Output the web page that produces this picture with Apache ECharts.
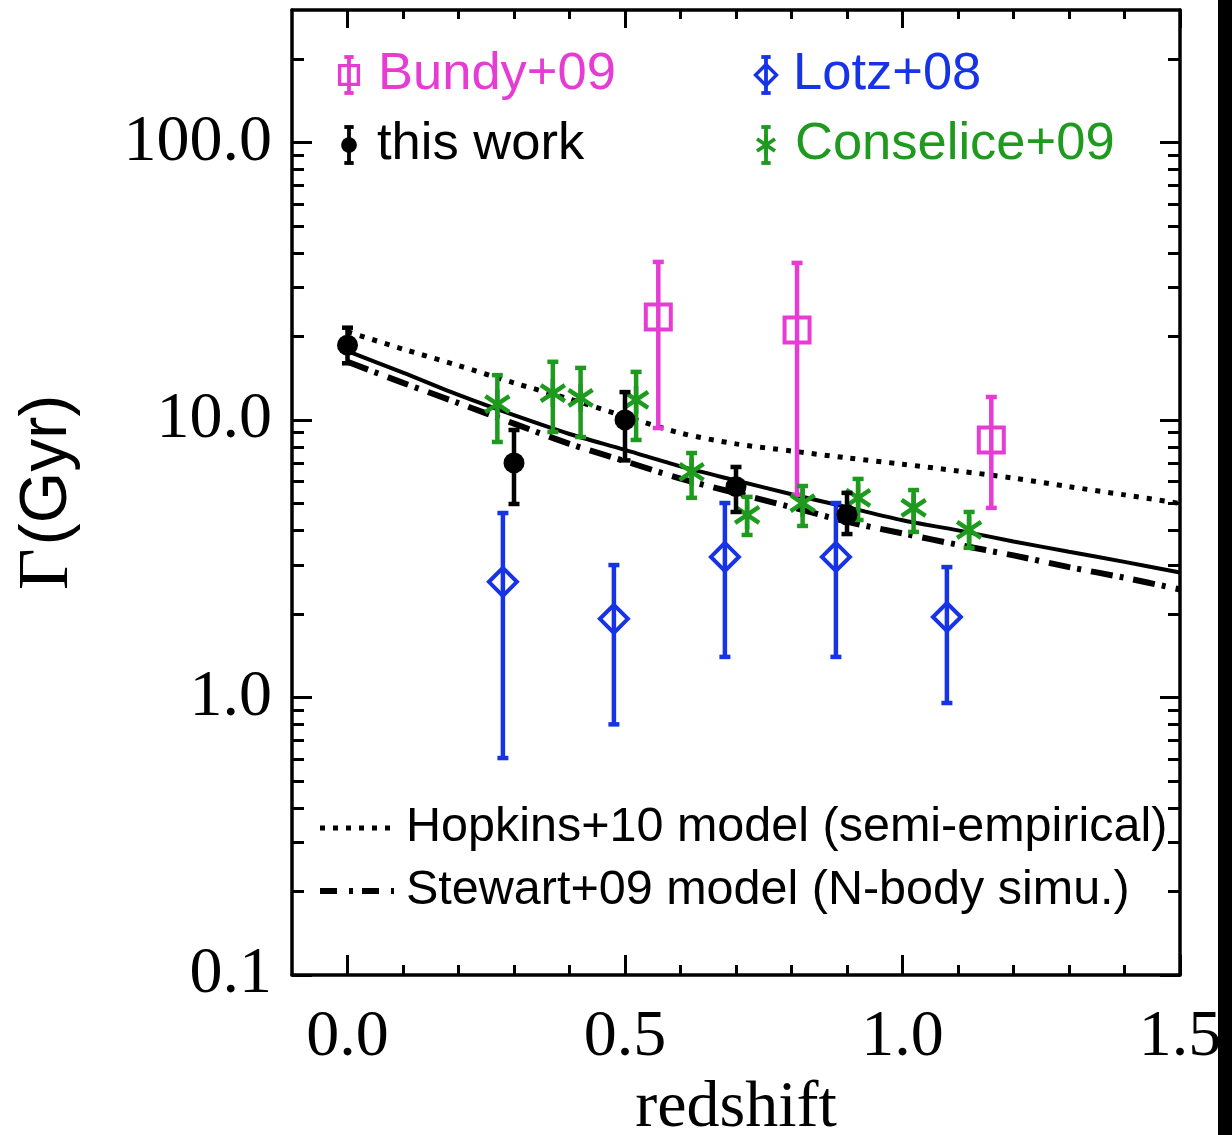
<!DOCTYPE html>
<html>
<head>
<meta charset="utf-8">
<script src="https://cdn.jsdelivr.net/npm/echarts@6/dist/echarts.min.js"></script>
<style>
html,body{margin:0;padding:0;background:#fff;}
#chart{width:1232px;height:1135px;}
</style>
</head>
<body>
<div id="chart"></div>
<script>
// ---------------- data ----------------
// this work
const thisZ  = [0.00, 0.30, 0.50, 0.70, 0.90];
const thisG  = [18.6, 7.0, 10.0, 5.75, 4.55];
const thisLo = [16.0, 4.98, 7.15, 4.66, 3.88];
const thisHi = [21.5, 9.2, 12.6, 6.77, 5.46];
// Bundy+09
const bundyZ  = [0.56, 0.81, 1.16];
const bundyG  = [23.5, 21.1, 8.47];
const bundyLo = [9.35, 5.37, 4.82];
const bundyHi = [37.1, 36.8, 12.1];
// Lotz+08
const lotzZ  = [0.28, 0.48, 0.68, 0.88, 1.08];
const lotzG  = [2.61, 1.92, 3.21, 3.21, 1.95];
const lotzLo = [0.605, 0.80, 1.40, 1.40, 0.955];
const lotzHi = [4.62, 3.00, 5.02, 5.02, 2.95];
// Conselice+09
const conZ  = [0.27, 0.37, 0.42, 0.52, 0.62, 0.72, 0.82, 0.92, 1.02, 1.12];
const conG  = [11.4, 12.5, 12.0, 11.8, 6.5, 4.55, 5.02, 5.24, 4.82, 4.02];
const conLo = [8.33, 9.05, 8.68, 8.47, 5.24, 3.85, 4.15, 4.36, 3.95, 3.46];
const conHi = [14.5, 16.2, 15.4, 14.9, 7.6, 5.28, 5.78, 6.13, 5.59, 4.66];
// model curves
const modelZ    = [0.0, 0.1, 0.2, 0.3, 0.4, 0.5, 0.6, 0.7, 0.8, 0.9, 1.0, 1.1, 1.2, 1.3, 1.4, 1.5];
const fitG      = [17.7, 14.8, 12.3, 10.4, 8.9, 7.8, 6.8, 6.05, 5.4, 4.85, 4.35, 4.0, 3.65, 3.35, 3.08, 2.82];
const hopkinsG  = [20.8, 18.0, 15.7, 13.6, 11.9, 10.3, 8.97, 8.2, 7.73, 7.3, 6.93, 6.55, 6.17, 5.75, 5.37, 5.0];
const stewartG  = [16.2, 13.6, 11.5, 9.7, 8.2, 7.1, 6.15, 5.45, 4.85, 4.3, 3.9, 3.55, 3.25, 2.95, 2.7, 2.45];
// axis ticks
const xMajor = [0.0, 0.5, 1.0, 1.5];
const xMinor = [0.1, 0.2, 0.3, 0.4, 0.6, 0.7, 0.8, 0.9, 1.1, 1.2, 1.3, 1.4];
const yMajor = [0.1, 1, 10, 100];
const yMinor = [0.2, 0.3, 0.4, 0.5, 0.6, 0.7, 0.8, 0.9, 2, 3, 4, 5, 6, 7, 8, 9, 20, 30, 40, 50, 60, 70, 80, 90, 200];
// legend text
const legendTop = [
  {name: 'Bundy+09', kind: 'square'},
  {name: 'this work', kind: 'circle'},
  {name: 'Lotz+08', kind: 'diamond'},
  {name: 'Conselice+09', kind: 'asterisk'}
];

// ---------------- styles ----------------
const COL = {square: '#e63cd4', circle: '#000000', diamond: '#1733e6', asterisk: '#1e9a1e'};
const SANS = "'Liberation Sans', Arial, Helvetica, sans-serif";
const SERIF = "'Liberation Serif', 'Times New Roman', serif";

function markerShape(kind, x, y, s, color) {
  const lw = 4 * Math.max(s, 0.85);
  if (kind === 'square') {
    const h = 12.5 * s;
    return {type: 'rect', shape: {x: x - h, y: y - h, width: 2 * h, height: 2 * h}, style: {stroke: color, lineWidth: lw, fill: null}};
  }
  if (kind === 'diamond') {
    const h = 14 * s;
    return {type: 'polygon', shape: {points: [[x, y - h], [x + h, y], [x, y + h], [x - h, y]]}, style: {stroke: color, lineWidth: lw, fill: null}};
  }
  if (kind === 'circle') {
    return {type: 'circle', shape: {cx: x, cy: y, r: 10.5 * s}, style: {fill: color}};
  }
  // asterisk
  const a = 14 * s, dx = 12 * s, dy = 8 * s, alw = 4.5 * Math.max(s, 0.85);
  return {type: 'group', children: [
    {type: 'line', shape: {x1: x, y1: y - a, x2: x, y2: y + a}, style: {stroke: color, lineWidth: alw}},
    {type: 'line', shape: {x1: x - dx, y1: y - dy, x2: x + dx, y2: y + dy}, style: {stroke: color, lineWidth: alw}},
    {type: 'line', shape: {x1: x - dx, y1: y + dy, x2: x + dx, y2: y - dy}, style: {stroke: color, lineWidth: alw}}
  ]};
}

function errGroup(kind, x, y, yHi, yLo, s, color) {
  const cw = 5.5 * Math.max(s, 0.85), lw = 4.5 * Math.max(s, 0.85);
  return [
    {type: 'line', shape: {x1: x, y1: yHi, x2: x, y2: yLo}, style: {stroke: color, lineWidth: lw}},
    {type: 'line', shape: {x1: x - cw, y1: yHi, x2: x + cw, y2: yHi}, style: {stroke: color, lineWidth: lw}},
    {type: 'line', shape: {x1: x - cw, y1: yLo, x2: x + cw, y2: yLo}, style: {stroke: color, lineWidth: lw}},
    markerShape(kind, x, y, s, color)
  ];
}

function makeRender(kind) {
  const color = COL[kind];
  return function (params, api) {
    const c = api.coord([api.value(0), api.value(1)]);
    const lo = api.coord([api.value(0), api.value(2)]);
    const hi = api.coord([api.value(0), api.value(3)]);
    return {type: 'group', children: errGroup(kind, c[0], c[1], hi[1], lo[1], 1, color)};
  };
}

function pack(z, g, lo, hi) { return z.map((v, i) => [v, g[i], lo[i], hi[i]]); }
function pairs(z, g) { return z.map((v, i) => [v, g[i]]); }

// ---------------- axes ----------------
const axLine = {show: true, onZero: false, lineStyle: {color: '#000', width: 3.5}};
const noLine = {show: false, onZero: false};
const fmt1 = v => Number(v).toFixed(1);

function xAx(pos, ticks, len, main) {
  return {
    type: 'value', position: pos, min: -0.1, max: 1.5,
    axisLine: main ? axLine : noLine,
    axisTick: {show: true, inside: true, length: len, customValues: ticks, lineStyle: {color: '#000', width: 3}},
    axisLabel: (main && pos === 'bottom') ? {show: true, customValues: xMajor, formatter: fmt1, margin: 30,
      fontFamily: SERIF, fontSize: 66, color: '#000'} : {show: false},
    splitLine: {show: false},
    name: (main && pos === 'bottom') ? 'redshift' : '',
    nameLocation: 'middle', nameGap: 85,
    nameTextStyle: {fontFamily: SERIF, fontSize: 66, color: '#000'}
  };
}
function yAx(pos, ticks, len, main) {
  return {
    type: 'log', logBase: 10, position: pos, min: 0.1, max: 300,
    axisLine: main ? axLine : noLine,
    axisTick: {show: true, inside: true, length: len, customValues: ticks, lineStyle: {color: '#000', width: 3}},
    axisLabel: (main && pos === 'left') ? {show: true, customValues: yMajor, formatter: fmt1, margin: 20,
      fontFamily: SERIF, fontSize: 66, color: '#000'} : {show: false},
    splitLine: {show: false},
    name: (main && pos === 'left') ? '{g|Γ} {s|(Gyr)}' : '',
    nameLocation: 'middle', nameGap: 208,
    nameTextStyle: {color: '#000', rich: {
      g: {fontFamily: SERIF, fontSize: 72, color: '#000'},
      s: {fontFamily: SANS, fontSize: 66, color: '#000'}
    }}
  };
}

// ---------------- legend graphics ----------------
const legendPos = [
  {mx: 349, tx: 378, y: 75},
  {mx: 349, tx: 377, y: 145},
  {mx: 766, tx: 793, y: 75},
  {mx: 766, tx: 795, y: 145}
];
const graphics = [];
legendTop.forEach((it, i) => {
  const p = legendPos[i];
  const col = COL[it.kind];
  graphics.push({type: 'group', children: errGroup(it.kind, p.mx, p.y, p.y - 18, p.y + 18, 0.75, col)});
  graphics.push({type: 'text', x: p.tx, y: p.y, style: {text: it.name, fill: col, font: '52.5px ' + SANS, textVerticalAlign: 'middle'}});
});
const lineLegend = [
  {name: 'Hopkins+10 model (semi-empirical)', dash: [5, 8], width: 5, y: 828},
  {name: 'Stewart+09 model (N-body simu.)', dash: [17, 12, 4, 9], width: 6, y: 891}
];
lineLegend.forEach(it => {
  graphics.push({type: 'line', shape: {x1: 320, y1: it.y, x2: 394, y2: it.y}, style: {stroke: '#000', lineWidth: it.width, lineDash: it.dash, lineCap: 'butt'}});
  graphics.push({type: 'text', x: 406, y: it.y, style: {text: it.name, fill: '#000', font: '48.5px ' + SANS, textVerticalAlign: 'middle'}});
});
// black strip at right edge of the reference image
graphics.push({type: 'rect', shape: {x: 1218, y: 0, width: 14, height: 1135}, style: {fill: '#000'}, z: 100});

// ---------------- option ----------------
const chart = echarts.init(document.getElementById('chart'), null, {renderer: 'canvas'});
const option = {
  animation: false,
  backgroundColor: '#fff',
  grid: {left: 292, top: 10, right: 52, bottom: 160, containLabel: false, outerBoundsMode: 'none'},
  xAxis: [
    xAx('bottom', xMajor, 20, true),
    xAx('bottom', xMinor, 10, false),
    xAx('top', xMajor, 18, true),
    xAx('top', xMinor, 9, false)
  ],
  yAxis: [
    yAx('left', yMajor, 20, true),
    yAx('left', yMinor, 12, false),
    yAx('right', yMajor, 20, true),
    yAx('right', yMinor, 12, false)
  ],
  series: [
    {type: 'line', name: 'Hopkins+10', data: pairs(modelZ, hopkinsG), showSymbol: false, smooth: 0.3,
      lineStyle: {color: '#000', width: 5, type: [5, 8], cap: 'butt'}, z: 2},
    {type: 'line', name: 'Stewart+09', data: pairs(modelZ, stewartG), showSymbol: false, smooth: 0.3,
      lineStyle: {color: '#000', width: 6, type: [22, 7, 4, 10], cap: 'butt'}, z: 2},
    {type: 'line', name: 'fit', data: pairs(modelZ, fitG), showSymbol: false, smooth: 0.3,
      lineStyle: {color: '#000', width: 4, type: 'solid'}, z: 2},
    {type: 'custom', name: 'Bundy+09', renderItem: makeRender('square'), data: pack(bundyZ, bundyG, bundyLo, bundyHi), encode: {x: 0, y: 1}, z: 5},
    {type: 'custom', name: 'Lotz+08', renderItem: makeRender('diamond'), data: pack(lotzZ, lotzG, lotzLo, lotzHi), encode: {x: 0, y: 1}, z: 5},
    {type: 'custom', name: 'Conselice+09', renderItem: makeRender('asterisk'), data: pack(conZ, conG, conLo, conHi), encode: {x: 0, y: 1}, z: 6},
    {type: 'custom', name: 'this work', renderItem: makeRender('circle'), data: pack(thisZ, thisG, thisLo, thisHi), encode: {x: 0, y: 1}, z: 7}
  ],
  graphic: graphics
};
chart.setOption(option);
</script>
</body>
</html>
